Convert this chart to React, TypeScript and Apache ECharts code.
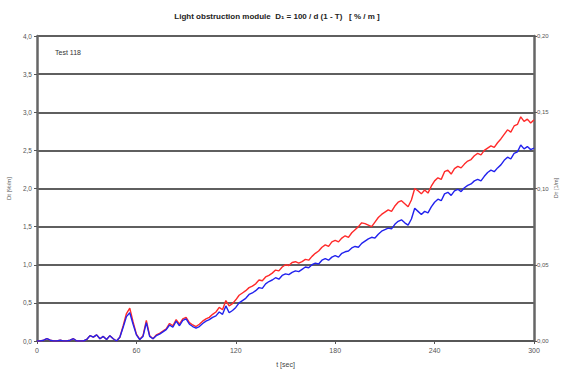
import React, { useEffect, useRef } from "react";
import * as echarts from "echarts";

const step = 2;
const blueValues = [
  0.00, 0.00, 0.01, 0.03, 0.01, 0.00, 0.00, 0.01, 0.00, 0.00, 0.01, 0.03, 0.00, 0.00, 0.00, 0.02,
  0.07, 0.05, 0.08, 0.03, 0.06, 0.02, 0.07, 0.03, 0.00, 0.05, 0.18, 0.32, 0.37, 0.22, 0.08, 0.02,
  0.06, 0.24, 0.06, 0.03, 0.07, 0.09, 0.12, 0.15, 0.21, 0.18, 0.26, 0.20, 0.27, 0.29, 0.22, 0.19,
  0.17, 0.19, 0.23, 0.26, 0.28, 0.31, 0.33, 0.38, 0.35, 0.46, 0.37, 0.40, 0.44, 0.50, 0.53, 0.56,
  0.61, 0.63, 0.66, 0.70, 0.69, 0.75, 0.78, 0.80, 0.83, 0.81, 0.86, 0.88, 0.87, 0.90, 0.92, 0.91,
  0.94, 0.97, 0.96, 1.00, 1.02, 1.01, 1.06, 1.08, 1.06, 1.10, 1.12, 1.10, 1.15, 1.17, 1.18, 1.22,
  1.24, 1.23, 1.28, 1.31, 1.34, 1.36, 1.35, 1.40, 1.44, 1.46, 1.48, 1.47, 1.53, 1.57, 1.59, 1.55,
  1.52, 1.60, 1.74, 1.70, 1.66, 1.70, 1.68, 1.76, 1.82, 1.86, 1.84, 1.93, 1.95, 1.91, 1.97, 1.99,
  1.96, 2.01, 2.04, 2.06, 2.10, 2.12, 2.10, 2.16, 2.21, 2.24, 2.22, 2.27, 2.31, 2.37, 2.41, 2.39,
  2.46, 2.48, 2.57, 2.52, 2.55, 2.51, 2.53,
];
const redValues = [
  0.00, 0.00, 0.01, 0.03, 0.01, 0.00, 0.00, 0.01, 0.00, 0.00, 0.01, 0.03, 0.00, 0.00, 0.00, 0.02,
  0.07, 0.05, 0.08, 0.03, 0.06, 0.02, 0.07, 0.03, 0.00, 0.05, 0.20, 0.36, 0.43, 0.25, 0.09, 0.02,
  0.07, 0.27, 0.07, 0.03, 0.08, 0.10, 0.13, 0.16, 0.23, 0.20, 0.28, 0.22, 0.29, 0.31, 0.24, 0.21,
  0.19, 0.22, 0.26, 0.29, 0.31, 0.35, 0.38, 0.44, 0.41, 0.53, 0.46, 0.49, 0.54, 0.60, 0.63, 0.66,
  0.70, 0.72, 0.75, 0.80, 0.79, 0.84, 0.86, 0.89, 0.93, 0.92, 0.97, 1.00, 0.99, 1.03, 1.04, 1.02,
  1.04, 1.07, 1.06, 1.11, 1.15, 1.18, 1.23, 1.26, 1.24, 1.30, 1.32, 1.30, 1.35, 1.38, 1.36, 1.42,
  1.46, 1.50, 1.55, 1.54, 1.52, 1.50, 1.56, 1.62, 1.66, 1.69, 1.72, 1.70, 1.77, 1.82, 1.84, 1.80,
  1.76, 1.85, 2.00, 1.97, 1.93, 1.98, 1.94, 2.03, 2.10, 2.14, 2.12, 2.22, 2.24, 2.19, 2.26, 2.29,
  2.27, 2.32, 2.36, 2.38, 2.43, 2.46, 2.44, 2.50, 2.53, 2.56, 2.54, 2.60, 2.65, 2.71, 2.77, 2.74,
  2.82, 2.84, 2.94, 2.88, 2.91, 2.86, 2.90,
];
const times = blueValues.map((_, i) => i * step);
const title = "Light obstruction module  D\u2081 = 100 / d (1 - T)   [ % / m ]";
const rightAxisName = "D\u1d1b [1/m]";

const fmtComma = (v: number, d: number) => v.toFixed(d).replace(".", ",");

export default function App() {
  const ref = useRef<HTMLDivElement>(null);
  useEffect(() => {
    if (!ref.current) return;
    const chart = echarts.init(ref.current, null, { renderer: "svg" });
    const font = "Liberation Sans";
    chart.setOption({
      animation: false,
      backgroundColor: "#ffffff",
      textStyle: { fontFamily: font },
      title: {
        text: title,
        left: 272,
        textAlign: "center",
        top: 7,
        textStyle: { fontSize: 8, fontWeight: "bold", color: "#222", fontFamily: font },
      },
      graphic: [
        {
          type: "text",
          left: 55,
          top: 49,
          style: { text: "Test 118", fontSize: 7, fill: "#333", fontFamily: font },
        },
        {
          type: "text",
          x: 556,
          y: 188,
          rotation: Math.PI / 2,
          style: {
            text: rightAxisName,
            fontSize: 5.5,
            fill: "#555",
            fontFamily: font,
            align: "center",
            verticalAlign: "middle",
          },
        },
      ],
      grid: { left: 37, right: 29, top: 36, bottom: 33, containLabel: false, outerBoundsMode: "none" },
      xAxis: {
        type: "value",
        min: 0,
        max: 300,
        interval: 60,
        name: "t [sec]",
        nameLocation: "middle",
        nameGap: 20,
        nameTextStyle: { fontSize: 7, color: "#444" },
        axisLine: { lineStyle: { color: "#555", width: 1.5 } },
        axisTick: { show: true, length: 3, lineStyle: { color: "#555" } },
        axisLabel: { fontSize: 7, color: "#555", margin: 6 },
        splitLine: { show: false },
      },
      yAxis: [
        {
          type: "value",
          min: 0,
          max: 4,
          interval: 0.5,
          name: "Dt [%/m]",
          nameLocation: "middle",
          nameGap: 23,
          nameTextStyle: { fontSize: 6, color: "#555" },
          axisLine: { show: true, lineStyle: { color: "#666", width: 2.5 } },
          axisTick: { show: true, length: 3, lineStyle: { color: "#555" } },
          axisLabel: { fontSize: 6.5, color: "#555", margin: 5, formatter: (v: number) => fmtComma(v, 1) },
          splitLine: { show: true, lineStyle: { color: "#2a2a2a", width: 1.6 } },
        },
        {
          type: "value",
          min: 0,
          max: 0.2,
          interval: 0.05,
          position: "right",
          axisLine: { show: true, lineStyle: { color: "#666", width: 2.5 } },
          axisTick: { show: true, length: 3, lineStyle: { color: "#555" } },
          axisLabel: { fontSize: 6, color: "#555", margin: 3, formatter: (v: number) => fmtComma(v, 2) },
          splitLine: { show: false },
        },
      ],
      series: [
        {
          type: "line",
          name: "red",
          data: times.map((t, i) => [t, redValues[i]]),
          showSymbol: false,
          lineStyle: { color: "#ff2a2a", width: 1.4 },
          yAxisIndex: 0,
          z: 2,
        },
        {
          type: "line",
          name: "blue",
          data: times.map((t, i) => [t, blueValues[i]]),
          showSymbol: false,
          lineStyle: { color: "#2222ee", width: 1.4 },
          yAxisIndex: 0,
          z: 3,
        },
      ],
    });
    return () => chart.dispose();
  }, []);
  return <div ref={ref} style={{ position: "fixed", left: 0, top: 0, width: 563, height: 374 }} />;
}
